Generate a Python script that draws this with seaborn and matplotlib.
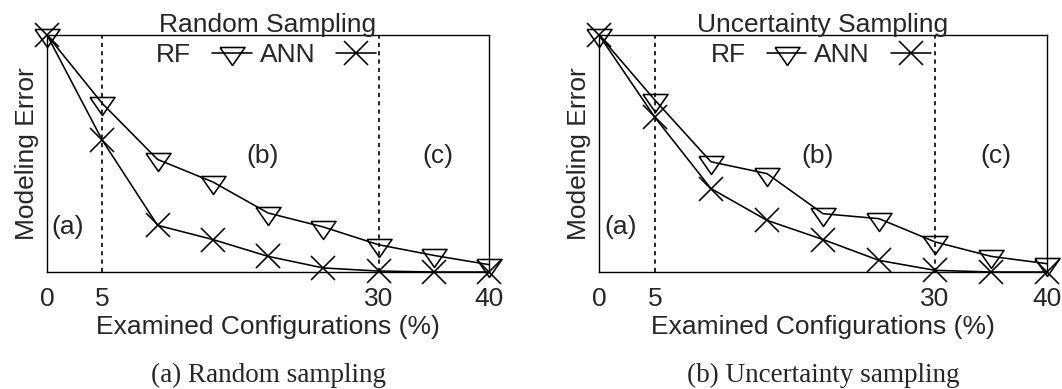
import numpy as np
import pandas as pd
import matplotlib
matplotlib.use("Agg")
import matplotlib.pyplot as plt
from matplotlib.lines import Line2D
import seaborn as sns

# ---- data ----
pct = [0, 5, 10, 15, 20, 25, 30, 35, 40]
rand_rf = [1.0, 0.711, 0.475, 0.380, 0.249, 0.190, 0.115, 0.070, 0.031]
rand_ann = [1.0, 0.556, 0.197, 0.137, 0.066, 0.017, 0.004, 0.0, 0.0]
unc_rf = [1.0, 0.725, 0.465, 0.415, 0.246, 0.225, 0.127, 0.066, 0.035]
unc_ann = [1.0, 0.652, 0.352, 0.218, 0.137, 0.049, 0.007, 0.0, 0.0]
xtick_vals = [0, 5, 30, 40]
xtick_labels = ["0", "5", "30", "40"]
phase_bounds = [5, 30]
phase_labels = ["(a)", "(b)", "(c)"]
titles = ["Random Sampling", "Uncertainty Sampling"]
captions = ["(a) Random sampling", "(b) Uncertainty sampling"]
series_names = ["RF", "ANN"]

sns.set_theme(style="white")
plt.rcParams["font.family"] = ["Liberation Sans", "DejaVu Sans"]

FS = 19
tri = [(-1, 0.48), (1, 0.48), (0, -0.96), (-1, 0.48)]
styles = {
    "RF": dict(marker=tri, markersize=18),
    "ANN": dict(marker="x", markersize=17),
}

fig = plt.figure(figsize=(10.62, 3.89), dpi=100)
axes = [fig.add_axes([0.0443, 0.3008, 0.4162, 0.6092]),
        fig.add_axes([0.5640, 0.3008, 0.4219, 0.6092])]

panels = [(rand_rf, rand_ann), (unc_rf, unc_ann)]
for k, ax in enumerate(axes):
    rf, ann = panels[k]
    df = pd.DataFrame({"pct": pct * 2, "err": rf + ann,
                       "model": ["RF"] * len(pct) + ["ANN"] * len(pct)})
    for name in series_names:
        sub = df[df.model == name]
        sns.lineplot(data=sub, x="pct", y="err", ax=ax, color="black",
                     lw=1.15, markerfacecolor="none", markeredgecolor="black",
                     mew=1.15, clip_on=False, legend=False, **styles[name])
    for b in phase_bounds:
        ax.axvline(b, color="black", lw=1.2, ls=(0, (2.5, 2.5)), zorder=1)
    ax.set_xlim(0, 40)
    ax.set_ylim(0, 1)
    ax.set_xticks(xtick_vals)
    ax.set_xticklabels(xtick_labels, fontsize=FS)
    ax.set_yticks([])
    ax.tick_params(axis="x", length=0, pad=11)
    ax.set_xlabel("Examined Configurations (%)", fontsize=FS, labelpad=3)
    ax.set_ylabel("Modeling Error", fontsize=FS, labelpad=6)
    ax.set_title(titles[k], fontsize=FS, pad=2)
    for s in ax.spines.values():
        s.set_color("black")
        s.set_linewidth(1.0)
    ax.text(1.9, 0.19, phase_labels[0], fontsize=FS, ha="center", va="center")
    ax.text(19.5, 0.49, phase_labels[1], fontsize=FS, ha="center", va="center")
    ax.text(35.4, 0.49, phase_labels[2], fontsize=FS, ha="center", va="center")
    handles = [Line2D([], [], color="black", lw=1.15, markerfacecolor="none",
                      markeredgecolor="black", mew=1.15, **styles[n])
               for n in series_names]
    ax.legend(handles, series_names, loc="center", bbox_to_anchor=(0.495, 0.916),
              ncol=2, frameon=False, markerfirst=False, fontsize=FS,
              handlelength=1.5, handletextpad=0.8, columnspacing=0.3,
              numpoints=1, borderpad=0.1)
    pos = ax.get_position()
    fig.text((pos.x0 + pos.x1) / 2, 1 - 375 / 389, captions[k],
             ha="center", va="center", fontsize=19.5,
             family=["Liberation Serif", "DejaVu Serif"])

fig.savefig("out.png", dpi=100)
